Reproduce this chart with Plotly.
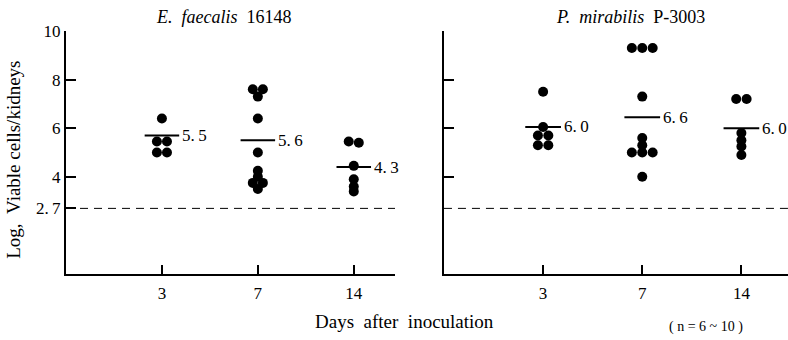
import plotly.graph_objects as go

# ---------------- data ----------------
days = ["3", "7", "14"]

ef_values = [
    [6.4, 5.45, 5.45, 5.0, 5.0],                                  # day 3
    [7.6, 7.6, 7.3, 6.4, 5.0, 4.25, 4.0, 3.75, 3.75, 3.5],       # day 7
    [5.45, 5.4, 4.45, 3.9, 3.6, 3.4],                             # day 14
]
ef_mean_line = [5.7, 5.5, 4.4]
ef_mean_label = ["5.5", "5.6", "4.3"]

pm_values = [
    [7.5, 6.05, 5.7, 5.7, 5.3, 5.3],                              # day 3
    [9.3, 9.3, 9.3, 7.3, 5.6, 5.3, 5.0, 5.0, 5.0, 4.0],          # day 7
    [7.2, 7.2, 5.8, 5.5, 5.25, 4.9],                              # day 14
]
pm_mean_line = [6.05, 6.45, 6.0]
pm_mean_label = ["6.0", "6.6", "6.0"]

detection_limit = 2.7

FONT = "Liberation Serif"
THIN = "\u2009"
nb = "\u00a0"


def spaced(s):
    return s.replace(".", "." + THIN)


def swarm(vals, step=0.105, tol=0.12):
    """symmetric horizontal spread of (nearly) equal values"""
    offs = [0.0] * len(vals)
    order = sorted(range(len(vals)), key=lambda i: -vals[i])
    groups, cur = [], [order[0]]
    for i in order[1:]:
        if abs(vals[i] - vals[cur[0]]) <= tol:
            cur.append(i)
        else:
            groups.append(cur)
            cur = [i]
    groups.append(cur)
    for g in groups:
        n = len(g)
        for k, i in enumerate(g):
            offs[i] = (k - (n - 1) / 2) * step
    return offs


fig = go.Figure()
annotations = []
shapes = []

panels = [
    ("x", "y", ef_values, ef_mean_line, ef_mean_label),
    ("x2", "y2", pm_values, pm_mean_line, pm_mean_label),
]

for xa, ya, vals, mline, mlabel in panels:
    xs, ys = [], []
    for i, grp in enumerate(vals):
        offs = swarm(grp)
        xs += [i + o for o in offs]
        ys += grp
    fig.add_trace(go.Scatter(
        x=xs, y=ys, xaxis=xa, yaxis=ya, mode="markers",
        marker=dict(size=10, color="black", line=dict(width=0)),
        showlegend=False, hoverinfo="skip"))
    for i, (m, lab) in enumerate(zip(mline, mlabel)):
        fig.add_trace(go.Scatter(
            x=[i - 0.18, i + 0.18], y=[m, m], xaxis=xa, yaxis=ya,
            mode="lines", line=dict(color="black", width=2),
            showlegend=False, hoverinfo="skip"))
        annotations.append(dict(
            x=i + 0.18, y=m, xref=xa, yref=ya, text=spaced(lab),
            showarrow=False, xanchor="left", yanchor="middle", xshift=1,
            font=dict(family=FONT, size=17, color="black")))
    shapes.append(dict(
        type="line", xref=f"{xa} domain", yref=ya, x0=0, x1=1,
        y0=detection_limit, y1=detection_limit,
        line=dict(color="black", width=1, dash="8px,6px")))

axis_common = dict(
    showline=True, linecolor="black", linewidth=2, showgrid=False,
    zeroline=False, ticks="inside", tickcolor="black",
    tickfont=dict(family=FONT, size=17, color="black"))

fig.update_layout(
    width=788, height=340,
    margin=dict(l=66, r=0, t=31, b=66),
    paper_bgcolor="white", plot_bgcolor="white",
    xaxis=dict(domain=[0, 0.4557], range=[-1, 2.43],
               tickvals=[0, 1, 2], ticktext=days, ticklen=9, tickwidth=1.5,
               ticklabelstandoff=3, anchor="y", **axis_common),
    yaxis=dict(domain=[0, 1], range=[0, 10],
               tickvals=[detection_limit, 4, 6, 8, 10],
               ticktext=[spaced("2.7"), "4", "6", "8", "10"],
               ticklen=10, tickwidth=1.5, anchor="x", **axis_common),
    xaxis2=dict(domain=[0.5235, 1], range=[-1, 2.47],
                tickvals=[0, 1, 2], ticktext=days, ticklen=9, tickwidth=1.5,
                ticklabelstandoff=3, anchor="y2", **axis_common),
    yaxis2=dict(domain=[0, 1], range=[0, 10],
                tickvals=[4, 6, 8, 10], showticklabels=False,
                ticklen=10, tickwidth=1.5, anchor="x2", **axis_common),
    shapes=shapes,
)

annotations += [
    dict(x=0.2182, y=1.0576, xref="paper", yref="paper", showarrow=False,
         text=f"<i>E.{nb}{nb}faecalis</i>{nb}{nb}16148",
         xanchor="center", yanchor="middle",
         font=dict(family=FONT, size=18, color="black")),
    dict(x=0.7812, y=1.0576, xref="paper", yref="paper", showarrow=False,
         text=f"<i>P.{nb}{nb}mirabilis</i>{nb}{nb}P-3003",
         xanchor="center", yanchor="middle",
         font=dict(family=FONT, size=18, color="black")),
    dict(x=-0.072, y=0.47, xref="paper", yref="paper", showarrow=False,
         text=f"Log,{nb}{nb}Viable{nb}cells/kidneys", textangle=-90,
         xanchor="center", yanchor="middle",
         font=dict(family=FONT, size=19, color="black")),
    dict(x=0.4695, y=-0.1975, xref="paper", yref="paper", showarrow=False,
         text=f"Days{nb}{nb}after{nb}{nb}inoculation",
         xanchor="center", yanchor="middle",
         font=dict(family=FONT, size=19, color="black")),
    dict(x=0.886, y=-0.218, xref="paper", yref="paper", showarrow=False,
         text=f"({nb}n{nb}={nb}6{nb}~{nb}10{nb})",
         xanchor="center", yanchor="middle",
         font=dict(family=FONT, size=14, color="black")),
]
fig.update_layout(annotations=annotations)

fig.write_html("out.html")
